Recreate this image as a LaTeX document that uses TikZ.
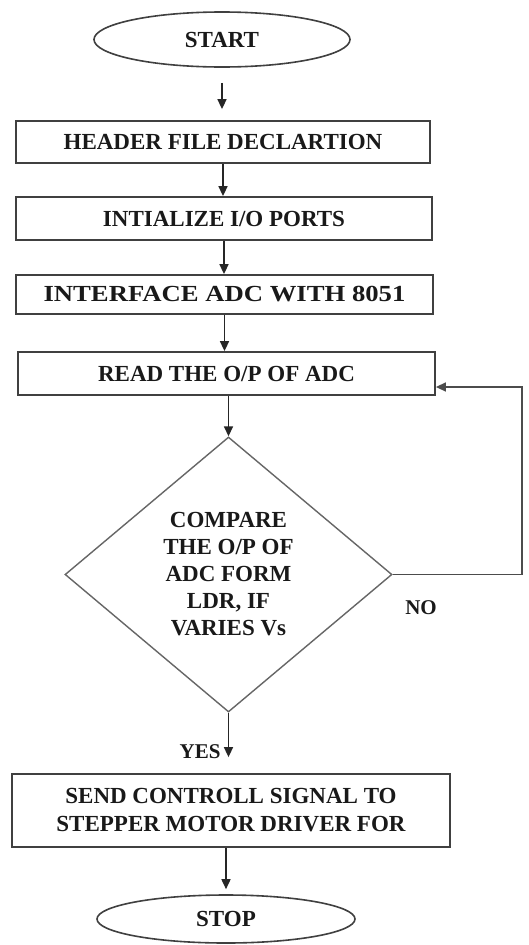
\documentclass[tikz,border=0pt]{standalone}
\usepackage{fontspec}
\setmainfont{Liberation Serif}
\usetikzlibrary{shapes.geometric,arrows.meta}
\begin{document}
\begin{tikzpicture}[x=1pt,y=-1pt,
  every node/.style={font=\fontsize{23}{27}\selectfont\bfseries, text=black!90},
  procbox/.style={draw=black!75, line width=1.8pt, rectangle, inner sep=0pt},
  term/.style={draw=black!75, line width=1.6pt, ellipse, inner sep=0pt},
  decide/.style={draw=black!60, line width=1.4pt, diamond, inner sep=0pt, align=center},
  lbl/.style={font=\fontsize{21}{25}\selectfont\bfseries},
  headtip/.style={-{Triangle[length=10pt,width=9pt]}},
  arr/.style={draw=black!85, line width=1.6pt, headtip},
  link/.style={draw=black!70, line width=1.5pt},
]
\useasboundingbox (0,0) rectangle (528,945);
\fill[white] (0,0) rectangle (528,945);

\node[term, minimum width=256pt, minimum height=55pt] (start) at (222,39.5) {START};
\node[procbox, minimum width=414pt, minimum height=42pt] (header) at (223,142) {HEADER FILE DECLARTION};
\node[procbox, minimum width=416pt, minimum height=43pt] (init) at (224,218.5) {INTIALIZE I/O PORTS};
\node[procbox, minimum width=417pt, minimum height=39pt] (iface) at (224.5,294.5) {\scalebox{1.16}[1]{INTERFACE ADC WITH 8051}};
\node[procbox, minimum width=417pt, minimum height=43pt] (read) at (226.5,373.5) {READ THE O/P OF ADC};
\node[decide, minimum width=327pt, minimum height=275pt] (cmp) at (228.5,574.5) {COMPARE\\THE O/P OF\\ADC FORM\\LDR, IF\\VARIES Vs};
\node[procbox, align=center, minimum width=438pt, minimum height=73pt, font=\fontsize{23}{28}\selectfont\bfseries] (send) at (231,810.5) {SEND CONTROLL SIGNAL TO\\STEPPER MOTOR DRIVER FOR};
\node[term, minimum width=258pt, minimum height=48pt] (stop) at (226,919) {STOP};

\node[lbl] (no) at (421,608) {NO};
\node[lbl, anchor=east] (yes) at (224,752) {YES};

\coordinate (c1) at (522,574.5);
\coordinate (c2) at (522,387);

\draw[arr, shorten <=15pt, shorten >=11pt] (start.south) -- (start.south |- header.north);
\draw[arr] (header.south) -- (header.south |- init.north);
\draw[arr] (init.south) -- (init.south |- iface.north);
\draw[arr] (iface.south) -- (iface.south |- read.north);
\draw[arr] (read.south -| cmp.north) -- (cmp.north);
\draw[arr, shorten >=16pt] (cmp.south) -- (cmp.south |- send.north);
\draw[arr, shorten >=5pt] (send.south -| stop.north) -- (stop.north);
\draw[link, headtip] (cmp.east) -- (c1) -- (c2) -- (c2 -| read.east);
\end{tikzpicture}
\end{document}
